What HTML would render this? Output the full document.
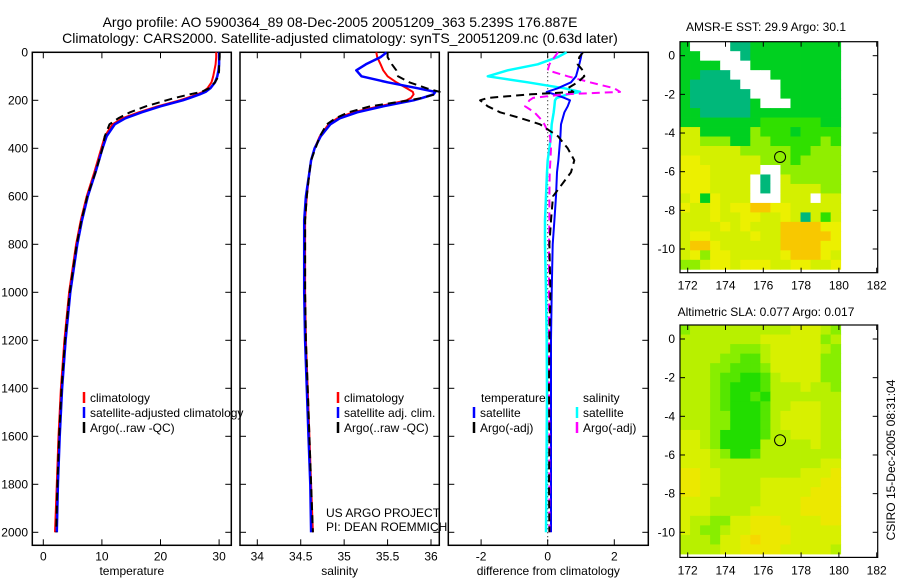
<!DOCTYPE html>
<html><head><meta charset="utf-8"><style>
body{margin:0;background:#fff}
svg{display:block;font-family:"Liberation Sans",sans-serif}
</style></head><body>
<svg id="fig" width="900" height="580" viewBox="0 0 900 580">
<text x="340" y="27" font-size="14" text-anchor="middle">Argo profile: AO 5900364_89 08-Dec-2005 20051209_363 5.239S 176.887E</text>
<text x="340" y="43" font-size="14" text-anchor="middle">Climatology: CARS2000. Satellite-adjusted climatology: synTS_20051209.nc (0.63d later)</text>
<text x="766" y="31" font-size="12" text-anchor="middle">AMSR-E SST: 29.9 Argo: 30.1</text>
<text x="766" y="316" font-size="12" text-anchor="middle">Altimetric SLA: 0.077 Argo: 0.017</text>
<text transform="translate(895,460) rotate(-90)" font-size="12" text-anchor="middle">CSIRO 15-Dec-2005 08:31:04</text>
<g id="g"></g>
</svg>
<script>
const depths=[0,20,50,75,100,125,150,165,175,190,200,225,250,275,300,350,400,450,500,600,700,800,1000,1200,1400,1600,1800,2000];
const tempClim=[29.5,29.5,29.4,29.2,29.0,28.7,28.0,27.2,26.3,24.5,23.3,19.5,16.3,13.5,11.8,10.5,9.9,9.3,8.7,7.4,6.4,5.6,4.4,3.6,3.0,2.6,2.3,2.0];
const tempSat=[30.0,30.0,30.0,29.9,29.7,29.3,28.5,27.7,26.7,25.0,23.8,20.0,16.8,14.0,12.2,10.8,10.1,9.5,8.9,7.6,6.6,5.8,4.6,3.8,3.2,2.8,2.5,2.3];
const tempArgo=[30.1,30.1,30.0,30.0,29.9,29.3,28.3,27.0,25.0,22.5,21.0,17.5,14.8,12.8,11.3,10.5,10.1,9.5,8.9,7.5,6.5,5.7,4.5,3.7,3.1,2.7,2.4,2.2];
const salClim=[35.37,35.38,35.42,35.45,35.5,35.6,35.72,35.79,35.8,35.77,35.72,35.4,35.1,34.92,34.82,34.72,34.66,34.62,34.6,34.57,34.55,34.55,34.55,34.56,34.58,34.6,34.62,34.64];
const salSat=[35.49,35.42,35.25,35.14,35.2,35.5,35.85,36.05,36.03,35.9,35.8,35.45,35.15,34.95,34.84,34.73,34.66,34.62,34.6,34.56,34.54,34.54,34.54,34.55,34.57,34.59,34.61,34.62];
const salArgo=[35.5,35.5,35.55,35.6,35.62,35.75,35.95,36.1,36.05,35.9,35.75,35.3,35.05,34.9,34.8,34.72,34.67,34.62,34.6,34.57,34.55,34.55,34.55,34.56,34.58,34.6,34.62,34.64];
const diffTSat=[1.02,1.0,0.95,0.9,0.85,0.7,0.3,-0.03,0.2,0.5,0.67,0.6,0.5,0.45,0.4,0.38,0.35,0.32,0.28,0.25,0.2,0.15,0.12,0.1,0.1,0.1,0.1,0.1];
const diffSSat=[0.57,0.3,-0.3,-1.2,-1.8,-0.6,0.5,0.97,0.6,0.27,0.22,0.2,0.18,0.15,0.12,0.1,0.05,0.0,-0.02,-0.05,-0.08,-0.08,-0.05,-0.03,-0.02,-0.03,-0.04,-0.05];
const diffTArgo=[1.06,0.95,0.9,1.05,1.1,0.9,0.6,0.77,-0.5,-1.8,-2.03,-1.8,-1.43,-0.8,-0.23,0.31,0.6,0.8,0.7,0.16,0.1,0.05,0.08,0.05,0.04,0.05,0.04,0.05];
const diffSArgo=[0.31,0.2,0.05,0.0,0.6,1.27,2.0,2.17,0.5,-0.44,-0.55,-0.68,-0.4,-0.23,-0.1,0.07,0.1,0.08,0.06,0.05,0.05,0.04,0.04,0.04,0.04,0.05,0.05,0.05];
const depthTicks=[0,200,400,600,800,1000,1200,1400,1600,1800,2000];
const tempTicks=[0,10,20,30];
const salTicks=[34,34.5,35,35.5,36];
const salTickLabels=["34","34.5","35","35.5","36"];
const diffTicks=[-2,0,2];
const diffTickLabels=["-2","0","2"];
const lonTicks=[172,174,176,178,180,182];
const latTicks=[0,-2,-4,-6,-8,-10];
const sstRows=["1WWWW00111111111","11WWWW0111111111","1111WWW111111111","11000WWWW1111111","100000WWWW111111","1000000WWW111111","10000001WWW11111","1100000111111111","1111111122222211","4411111322212222","4433311332222232","4444443333322333","5544444433323333","55544444WW333333","5554444W0W433333","5554444W0W444433","4515444WWW444W44","5445455665544444","4445445544540424","4444545444666655","4554444544666665","4665444444666655","4535544444566654","3345545554455445"];
const slaRows=["3444444444455543","4444444455555534","4444433345555543","4444332245555533","4443322235555533","4443221124555533","4443211124445443","4443211214444444","4443211124455544","4443311124555544","4443311124555544","5543111124455544","5543111144444544","5554311244444444","5554444444444455","6655444444445556","6655444455555566","6655444455555666","5554444455556666","5554444555556666","5443355666555566","5433455666655555","4443556766655555","4444556666555554"];
const argoLon=176.887, argoLat=-5.239;

const NS="http://www.w3.org/2000/svg", G=document.getElementById('g');
function mk(t,a,p){const e=document.createElementNS(NS,t);for(const k in a)e.setAttribute(k,a[k]);(p||G).appendChild(e);return e;}
const yD=d=>52.3+d*0.24;
const panels=[
 {name:'temperature-panel',l:32.3,r:231.3,x:v=>43.3+v*5.86,ticks:tempTicks,labels:tempTicks.map(String),xlabel:'temperature'},
 {name:'salinity-panel',l:240,r:439.3,x:v=>257.3+(v-34)*86.85,ticks:salTicks,labels:salTickLabels,xlabel:'salinity'},
 {name:'difference-panel',l:448.3,r:648.3,x:v=>547.7+v*33.3,ticks:diffTicks,labels:diffTickLabels,xlabel:'difference from climatology'}];
const pTop=52.3,pBot=545.3;
panels.forEach((p,i)=>{
 const g=mk('g',{});
 
 
 mk('rect',{x:p.l,y:pTop,width:p.r-p.l,height:pBot-pTop,fill:'none',stroke:'#000','stroke-width':1.5},g);
 p.ticks.forEach((t,j)=>{const x=p.x(t);
  mk('line',{x1:x,x2:x,y1:pBot,y2:pBot-6,stroke:'#000'},g);
  mk('line',{x1:x,x2:x,y1:pTop,y2:pTop+6,stroke:'#000'},g);
  const tx=mk('text',{x:x,y:pBot+15,'font-size':12,'text-anchor':'middle'},g);tx.textContent=p.labels[j];
  
 });
 depthTicks.forEach(d=>{const y=yD(d);
  mk('line',{x1:p.l,x2:p.l+6,y1:y,y2:y,stroke:'#000'},g);
  mk('line',{x1:p.r,x2:p.r-6,y1:y,y2:y,stroke:'#000'},g);
  if(i===0){const tx=mk('text',{x:28,y:y+4,'font-size':12,'text-anchor':'end'},g);tx.textContent=d;
   }
 });
 const xl=mk('text',{x:(p.l+p.r)/2,y:575,'font-size':12,'text-anchor':'middle'},g);xl.textContent=p.xlabel;
 
});
function line(p,vals,col,w,dash,name){
 const pts=vals.map((v,k)=>p.x(v).toFixed(1)+','+yD(depths[k]).toFixed(1)).join(' ');
 const e=mk('polyline',{points:pts,fill:'none',stroke:col,'stroke-width':w,'stroke-dasharray':dash||'none','stroke-linejoin':'round'});
 
 
}
const P1=panels[0],P2=panels[1],P3=panels[2];
mk('line',{x1:P3.x(0),x2:P3.x(0),y1:pTop,y2:pBot,stroke:'#000','stroke-dasharray':'1,3'});
line(P1,tempClim,'#f00',2,null,'temperature-climatology-line');
line(P1,tempSat,'#00f',2.5,null,'temperature-satellite-line');
line(P1,tempArgo,'#000',2,'8,5','temperature-argo-line');
line(P2,salClim,'#f00',2,null,'salinity-climatology-line');
line(P2,salSat,'#00f',2.5,null,'salinity-satellite-line');
line(P2,salArgo,'#000',2,'8,5','salinity-argo-line');
line(P3,diffSSat,'#0ff',2.5,null,'salinity-satellite-diff-line');
line(P3,diffTSat,'#00f',2,null,'temperature-satellite-diff-line');
line(P3,diffSArgo,'#f0f',2,'8,5','salinity-argo-diff-line');
line(P3,diffTArgo,'#000',2,'8,5','temperature-argo-diff-line');
function leg(x,y,col,txt,name){
 const g=mk('g',{});
 if(col)mk('line',{x1:x,x2:x,y1:y-10,y2:y+1,stroke:col,'stroke-width':2.5},g);
 const t=mk('text',{x:x+6,y:y,'font-size':12},g);t.textContent=txt;
}
leg(84,402,'#f00','climatology','legend-climatology');
leg(84,417,'#00f','satellite-adjusted climatology','legend-satellite');
leg(84,432,'#000','Argo(..raw -QC)','legend-argo');
leg(338,402,'#f00','climatology','legend-climatology-2');
leg(338,417,'#00f','satellite adj. clim.','legend-satellite-2');
leg(338,432,'#000','Argo(..raw -QC)','legend-argo-2');
leg(475,402,null,'temperature','legend-temperature-header');
leg(577,402,null,'salinity','legend-salinity-header');
leg(474,417,'#00f','satellite','legend-temp-satellite');
leg(474,432,'#000','Argo(-adj)','legend-temp-argo');
leg(577,417,'#0ff','satellite','legend-sal-satellite');
leg(577,432,'#f0f','Argo(-adj)','legend-sal-argo');
let tt0=mk('text',{x:326,y:517,'font-size':12});tt0.textContent='US ARGO PROJECT';
tt0=mk('text',{x:326,y:531,'font-size':12});tt0.textContent='PI: DEAN ROEMMICH';

const sstPal={'0':'#00b87a','1':'#00d020','2':'#30e000','3':'#90ee00','4':'#d4f000','5':'#ecf000','6':'#f8c800','W':'#ffffff'};
const slaPal={'1':'#22dd00','2':'#55e600','3':'#88ee00','4':'#b8f000','5':'#d8f000','6':'#ece800','7':'#f6d800'};
function map(rows,pal,y0,lat0,imgTop,imgBot,name){
 const g=mk('g',{});
 const lx=v=>687.7+(v-172)*18.9, ly=v=>lat0+(-v)*19.33;
 const x0=680,x1=840.7,cw=(x1-x0)/16,rh=(imgBot-imgTop)/rows.length;
 rows.forEach((r,i)=>{for(let j=0;j<16;j++){
  const c=mk('rect',{x:(x0+j*cw).toFixed(2),y:(imgTop+i*rh).toFixed(2),width:(cw+0.4).toFixed(2),height:(rh+0.4).toFixed(2),fill:pal[r[j]]},g);
  
 }});
 const b=imgBot+3.4;
 mk('rect',{x:680,y:y0,width:197.7,height:b-y0,fill:'none',stroke:'#000','stroke-width':1.2},g);
 lonTicks.forEach(v=>{const x=lx(v);mk('line',{x1:x,x2:x,y1:b,y2:b-5,stroke:'#000'},g);mk('line',{x1:x,x2:x,y1:y0,y2:y0+5,stroke:'#000'},g);
  const tt=mk('text',{x:x,y:b+17,'font-size':12,'text-anchor':'middle'},g);tt.textContent=v;});
 latTicks.forEach(v=>{const y=ly(v);mk('line',{x1:680,x2:685,y1:y,y2:y,stroke:'#000'},g);mk('line',{x1:877.7,x2:872.7,y1:y,y2:y,stroke:'#000'},g);
  const tt=mk('text',{x:675,y:y+4,'font-size':12,'text-anchor':'end'},g);tt.textContent=v;});
 const c=mk('circle',{cx:lx(argoLon),cy:ly(argoLat),r:5.5,fill:'none',stroke:'#000','stroke-width':1},g);
 
}
map(sstRows,sstPal,41.7,55.7,41.7,269.3,'sst-map');
map(slaRows,slaPal,325,339,325,554,'sla-map');
</script>
</body></html>
